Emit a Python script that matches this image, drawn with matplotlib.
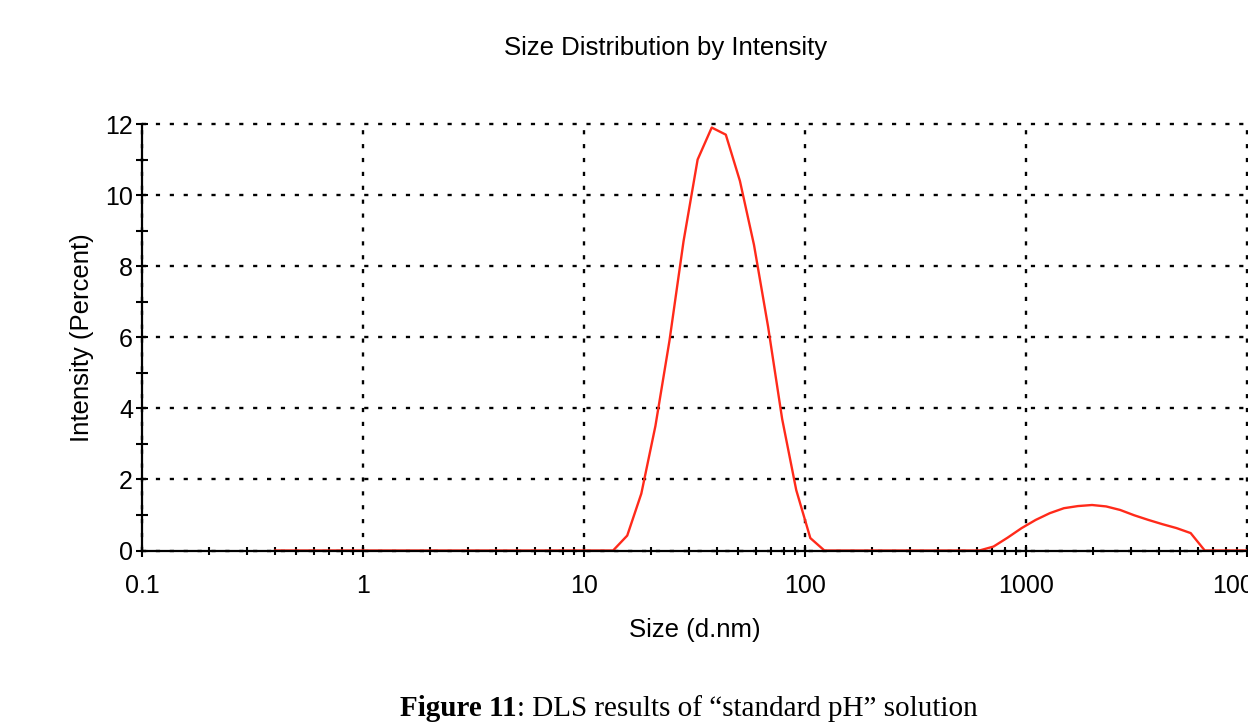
import numpy as np
import matplotlib
matplotlib.use("Agg")
import matplotlib.pyplot as plt
from matplotlib.ticker import LogLocator, FixedLocator, NullFormatter

# size bins (d.nm) and intensity (%)
sizes = [0.4, 0.4632, 0.5365, 0.6213, 0.7195, 0.8332, 0.9649, 1.117, 1.294, 1.499,
         1.736, 2.01, 2.328, 2.696, 3.122, 3.615, 4.187, 4.849, 5.615, 6.503,
         7.531, 8.721, 10.1, 11.7, 13.54, 15.69, 18.17, 21.04, 24.36, 28.21,
         32.67, 37.84, 43.82, 50.75, 58.77, 68.06, 78.82, 91.28, 105.7, 122.4,
         141.8, 164.2, 190.1, 220.2, 255.0, 295.3, 342.0, 396.1, 458.7, 531.2,
         615.1, 712.4, 825.0, 955.4, 1106, 1281, 1484, 1718, 1990, 2305,
         2669, 3091, 3580, 4145, 4801, 5560, 6439, 7456, 8635, 10000]
intensity = [0, 0, 0, 0, 0, 0, 0, 0, 0, 0,
             0, 0, 0, 0, 0, 0, 0, 0, 0, 0,
             0, 0, 0, 0, 0, 0.42, 1.6, 3.5, 5.9, 8.7,
             11.0, 11.9, 11.7, 10.4, 8.6, 6.3, 3.7, 1.7, 0.35, 0,
             0, 0, 0, 0, 0, 0, 0, 0, 0, 0,
             0, 0.11, 0.36, 0.63, 0.86, 1.05, 1.19, 1.25, 1.28, 1.24,
             1.14, 0.99, 0.86, 0.74, 0.63, 0.49, 0, 0, 0, 0]

x_ticks = [0.1, 1, 10, 100, 1000, 10000]
x_ticklabels = ['0.1', '1', '10', '100', '1000', '10000']
y_ticks = [0, 2, 4, 6, 8, 10, 12]

plt.rcParams['font.family'] = ['Liberation Sans', 'DejaVu Sans']
plt.rcParams['lines.scale_dashes'] = False

fig = plt.figure(figsize=(12.48, 7.24), dpi=100)
ax = fig.add_axes([142/1248, 1 - 550.5/724, 1105/1248, (550.5 - 124)/724])

ax.plot(sizes, intensity, color='#ff2a1a', lw=1.7, zorder=2)

ax.set_xscale('log')
ax.set_xlim(0.1, 10000)
ax.set_ylim(0, 12)
ax.set_xticks(x_ticks)
ax.set_xticklabels(x_ticklabels)
ax.xaxis.set_minor_locator(LogLocator(base=10, subs=np.arange(2, 10)))
ax.xaxis.set_minor_formatter(NullFormatter())
ax.set_yticks(y_ticks)
ax.yaxis.set_minor_locator(FixedLocator([1, 3, 5, 7, 9, 11]))

ax.tick_params(axis='x', which='major', direction='inout', length=8, width=1.5,
               labelsize=18, pad=13)
ax.tick_params(axis='x', which='minor', direction='inout', length=6, width=1.5)
ax.tick_params(axis='y', which='major', direction='inout', length=9, width=1.5,
               labelsize=18, pad=2)
ax.tick_params(axis='y', which='minor', direction='inout', length=9, width=1.5)

for s in ['top', 'right']:
    ax.spines[s].set_visible(False)
for s in ['left', 'bottom']:
    ax.spines[s].set_linewidth(1.6)

ax.grid(True, which='major', color='black', linestyle=(0, (3, 7)), lw=1.7)
for gl in ax.get_xgridlines() + ax.get_ygridlines():
    gl.set_clip_on(False)

ax.set_xlabel('Size (d.nm)', fontsize=18.5, labelpad=14)
ax.set_ylabel('Intensity (Percent)', fontsize=18.5, labelpad=8)

fig.text(666/1248, 1 - 48/724, 'Size Distribution by Intensity', fontsize=18.5,
         ha='center', va='center')

cap = fig.text(400/1248, 1 - 709/724, 'Figure 11', family='Liberation Serif',
               fontweight='bold', fontsize=21, ha='left', va='center')
fig.text(0, 0, '', fontsize=1)
ax.annotate(': DLS results of \u201cstandard pH\u201d solution', xy=(1, 0.5),
            xycoords=cap, va='center', ha='left', family='Liberation Serif',
            fontsize=21, annotation_clip=False)

fig.savefig('out.png', dpi=100)
